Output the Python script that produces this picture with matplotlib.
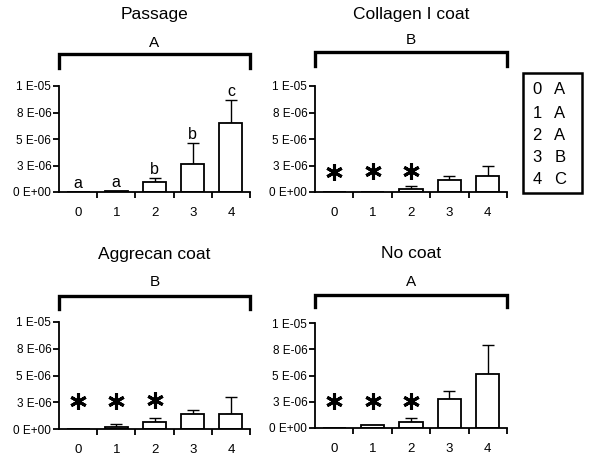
import matplotlib
matplotlib.use("Agg")
import matplotlib.pyplot as plt
import numpy as np

plt.rcParams['font.family'] = ['Liberation Sans', 'DejaVu Sans']

categories = ["0", "1", "2", "3", "4"]
ytick_values = [0, 2.5e-6, 5e-6, 7.5e-6, 1e-5]
ytick_labels = ["0 E+00", "3 E-06", "5 E-06", "8 E-06", "1 E-05"]

titles = ["Passage", "Collagen I coat", "Aggrecan coat", "No coat"]
group_letters = ["A", "B", "B", "A"]

passage_vals = [0.0, 0.05e-6, 0.9e-6, 2.6e-6, 6.5e-6]
passage_err = [0.0, 0.0, 0.4e-6, 2.0e-6, 2.2e-6]
passage_sig = ["a", "a", "b", "b", "c"]

collagen_vals = [0.0, 0.03e-6, 0.3e-6, 1.15e-6, 1.5e-6]
collagen_err = [0.0, 0.0, 0.25e-6, 0.35e-6, 0.95e-6]

aggrecan_vals = [0.0, 0.22e-6, 0.65e-6, 1.43e-6, 1.37e-6]
aggrecan_err = [0.0, 0.22e-6, 0.38e-6, 0.37e-6, 1.6e-6]

nocoat_vals = [0.0, 0.25e-6, 0.54e-6, 2.76e-6, 5.17e-6]
nocoat_err = [0.0, 0.0, 0.41e-6, 0.74e-6, 2.73e-6]

asterisk_cats = [0, 1, 2]
collagen_ast = [1.9e-6, 2.0e-6, 2.0e-6]
aggrecan_ast = [2.6e-6, 2.6e-6, 2.7e-6]
nocoat_ast = [2.55e-6, 2.55e-6, 2.6e-6]

legend_nums = ["0", "1", "2", "3", "4"]
legend_letters = ["A", "A", "A", "B", "C"]

W, H = 600, 471
fig = plt.figure(figsize=(6, 4.71), dpi=100)

def px_axes(x0, x1, ytop, ybot):
    return fig.add_axes([x0 / W, 1 - ybot / H, (x1 - x0) / W, (ybot - ytop) / H])

panels = [
    dict(box=(59, 250, 86, 192), vals=passage_vals, err=passage_err, sig=passage_sig,
         ast=None, br=54, bre=68, let=43, tit=15),
    dict(box=(315, 507, 86, 192), vals=collagen_vals, err=collagen_err, sig=None,
         ast=collagen_ast, br=52, bre=66, let=40, tit=15),
    dict(box=(59, 250, 322, 429), vals=aggrecan_vals, err=aggrecan_err, sig=None,
         ast=aggrecan_ast, br=296, bre=309, let=282, tit=255),
    dict(box=(315, 507, 323, 428), vals=nocoat_vals, err=nocoat_err, sig=None,
         ast=nocoat_ast, br=295, bre=307, let=282, tit=253),
]

x = np.arange(len(categories))
for i, p in enumerate(panels):
    x0, x1, yt, yb = p['box']
    ax = px_axes(x0, x1, yt, yb)
    ax.bar(x, p['vals'], width=0.6, color='white', edgecolor='black', linewidth=1.3, zorder=2)
    vals = np.array(p['vals'])
    err = np.array(p['err'])
    mask = err > 0
    ax.errorbar(x[mask], vals[mask], yerr=[np.zeros(mask.sum()), err[mask]],
                fmt='none', ecolor='black', elinewidth=1.0, capsize=4, capthick=1.0, zorder=1)
    ax.set_xlim(-0.5, 4.5)
    ax.set_ylim(0, 1e-5)
    ax.set_yticks(ytick_values)
    ax.set_yticklabels(ytick_labels, fontsize=8.5)
    ax.set_xticks(x)
    ax.set_xticklabels(categories, fontsize=9.5)
    ax.set_xticks(np.arange(0.5, 4.6, 1.0), minor=True)
    ax.tick_params(axis='x', which='major', length=0, pad=11)
    ax.tick_params(axis='x', which='minor', length=4, width=1.3, direction='out')
    ax.tick_params(axis='y', length=4, width=1.3, direction='out', pad=1.5)
    for s in ['top', 'right']:
        ax.spines[s].set_visible(False)
    for s in ['left', 'bottom']:
        ax.spines[s].set_linewidth(1.3)
    if p['sig']:
        for xi, v, e, s in zip(x, vals, err, p['sig']):
            ax.text(xi, v + e + 0.1e-6, s, ha='center', va='bottom', fontsize=11.5)
    if p['ast']:
        ax.plot(asterisk_cats, p['ast'], linestyle='none', marker=(6, 2, 0),
                markersize=12, markeredgewidth=2.2, color='black', zorder=3)
    # bracket
    fig.add_artist(plt.Line2D([x0 / W, x0 / W, x1 / W, x1 / W],
                              [1 - p['bre'] / H, 1 - p['br'] / H, 1 - p['br'] / H, 1 - p['bre'] / H],
                              color='black', linewidth=2.4, solid_joinstyle='miter'))
    fig.text((x0 + x1) / 2 / W, 1 - p['let'] / H, group_letters[i], ha='center', va='center', fontsize=11)
    fig.text((x0 + x1) / 2 / W, 1 - p['tit'] / H, titles[i], ha='center', va='center', fontsize=12.5)

# legend box
lx0, lx1, ly0, ly1 = 523, 582, 73, 193
fig.add_artist(plt.Rectangle((lx0 / W, 1 - ly1 / H), (lx1 - lx0) / W, (ly1 - ly0) / H,
                             fill=False, edgecolor='black', linewidth=1.8))
rows_y = [90, 113, 136, 158, 180]
for n, l, yy in zip(legend_nums, legend_letters, rows_y):
    fig.text(537 / W, 1 - yy / H, n, ha='center', va='center', fontsize=12)
    fig.text(560 / W, 1 - yy / H, l, ha='center', va='center', fontsize=12)

fig.savefig('out.png', dpi=100)
